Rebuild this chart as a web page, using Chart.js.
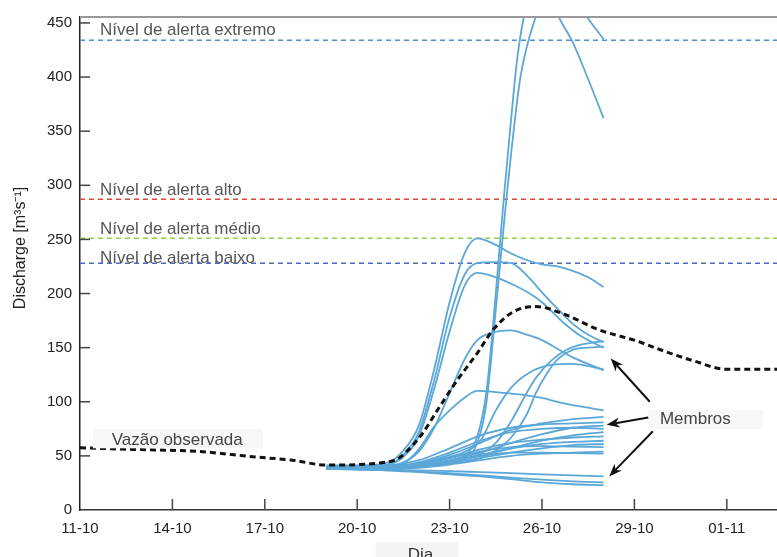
<!DOCTYPE html>
<html>
<head>
<meta charset="utf-8">
<script src="https://cdn.jsdelivr.net/npm/chart.js@4.4.1/dist/chart.umd.min.js"></script>
<style>
  html, body { margin: 0; padding: 0; background: #fff; overflow: hidden; }
  #wrap { width: 777px; height: 557px; position: relative; }
</style>
</head>
<body>
<div id="wrap"><canvas id="grafico"></canvas></div>
<script>
// eixo x: dias contados a partir de 11-10
const diasTicks = [0, 3, 6, 9, 12, 15, 18, 21];
const rotulosX = ['11-10', '14-10', '17-10', '20-10', '23-10', '26-10', '29-10', '01-11'];
const valoresY = [0, 50, 100, 150, 200, 250, 300, 350, 400, 450];

// vazão observada
const obsDias = [0, 1.7, 3.9, 5, 5.7, 6.9, 8, 10, 10.3, 10.6, 11.1, 11.6, 12.2, 12.9, 13.4, 14.06, 14.8, 15.8, 16.8, 18.2, 18.8, 19.9, 21, 22.63];
const obsVazao = [57.5, 56, 54, 51, 49, 46, 41.5, 44.5, 47, 54, 70, 92, 118, 145, 166, 183, 188, 180, 167, 155, 148.5, 138, 130, 130];

// níveis de alerta
const niveisNomes = ['Nível de alerta extremo', 'Nível de alerta alto', 'Nível de alerta médio', 'Nível de alerta baixo'];
const niveisValores = [434, 287, 251, 228];

// membros do ensemble: pares [dia, vazão]
const membros = [
  [[8,41],[10,41],[11,42],[12,45],[12.5,51],[12.9,68],[13.2,110],[13.5,200],[13.75,285],[14,362],[14.2,418],[14.45,460],[15,495],[15.5,458],[16,432],[16.5,398],[17,362]],
  [[8,40],[10,40],[11,42],[12,44],[12.5,49],[12.9,62],[13.2,100],[13.5,185],[13.8,275],[14,330],[14.3,400],[14.8,456],[15.5,500],[16.45,456],[17,435]],
  [[8,41],[9,41],[10,44],[10.5,55],[11,78],[11.5,130],[12,192],[12.5,238],[12.9,251],[13.5,245],[14,237],[14.5,231],[15,227],[15.5,225],[16,221],[16.5,215],[17,206]],
  [[8,40],[9,40],[10,42],[10.5,51],[11,72],[11.5,120],[12,178],[12.5,218],[12.9,228],[13.5,229],[14,228],[14.6,214],[15,201],[15.5,186],[16,172],[16.5,162],[17,155]],
  [[8,40],[9,40],[10,42],[10.5,49],[11,68],[11.5,112],[12,165],[12.5,208],[12.9,219],[13.5,215],[14,209],[14.6,200],[15,192],[15.7,173],[16.3,160],[17,150]],
  [[8,40],[10,41],[10.5,44],[11,54],[11.5,76],[12,108],[12.5,140],[12.9,157],[13.4,164],[14,166],[14.5,162],[15,157],[15.5,149],[16,141],[16.5,135],[17,129]],
  [[8,40],[10,40],[10.5,43],[11,56],[11.5,77],[12,92],[12.5,104],[12.9,110],[13.5,109],[14,107.5],[14.5,106],[15,103.5],[15.5,100],[16,97],[16.5,94.5],[17,92]],
  [[8,40],[10,40],[11,43],[12,49],[12.5,54],[13,64],[13.5,92],[14,113],[14.6,127],[15.3,134],[16,135],[16.5,133],[17,130]],
  [[8,39],[10,39],[11,41],[12,45],[13,52],[13.5,62],[14,82],[14.5,108],[14.8,122],[15.3,138],[15.8,148],[16.3,153],[17,156]],
  [[8,39],[10,39],[11,40],[12,43],[13,48],[13.5,55],[14,67],[14.5,88],[14.8,108],[15.2,128],[15.5,139],[16,148],[16.5,150],[17,151]],
  [[8,40],[10,40],[11,43],[12,51],[13,62],[14,74],[15,80],[16,84],[17,86]],
  [[8,40],[10,41],[11,46],[12,57],[13,69],[14,76],[15,79],[16,80],[17,81]],
  [[8,39],[10,39],[11,41],[12,46],[13,53],[14,62],[15,70],[16,76],[17,78]],
  [[8,40],[10,40],[11,44],[12,53],[13,64],[14,72],[15,75],[16,76],[17,75]],
  [[8,39],[10,39],[11,41],[12,44],[13,50],[14,57],[15,64],[16,69],[17,72]],
  [[8,39],[10,39],[11,42],[12,48],[13,56],[14,62],[15,65],[16,67],[17,68]],
  [[8,39],[10,39],[11,41],[12,45],[13,51],[14,57],[15,61],[16,63],[17,64]],
  [[8,38],[10,38],[11,40],[12,43],[13,48],[14,53],[15,57],[16,60],[17,61]],
  [[8,39],[10,40],[11,43],[12,48],[13,54],[14,58],[15,59],[16,58.5],[17,58]],
  [[8,38],[10,38],[11,39],[12,42],[13,46],[14,50],[15,52],[16,53],[17,54]],
  [[8,39],[10,39],[11,41],[12,45],[13,50],[14,53],[15,53],[16,52.5],[17,52]],
  [[8,38],[10,37],[11,36.5],[12,36],[13,35],[14,34],[15,33],[16,32],[17,31]],
  [[8,38],[10,37],[11,35.5],[12,34],[13,32],[14,30],[15,28],[16,26.5],[17,25.5]],
  [[8,38],[10,36.5],[11,35],[12,33],[13,31],[14,28.5],[15,25.5],[16,23.8],[17,23]]
];

const X_MAX = 22.63;
const Y_MAX = 455.5;
const coresNiveis = ['#4f8ed2', '#d9493c', '#8fd24c', '#4a69c0'];
const corMembro = '#5aa7d8';
const fonte = "'Liberation Sans', Arial, sans-serif";

Chart.defaults.font.family = fonte;

const datasets = [];
datasets.push({
  label: 'Vazão observada',
  data: obsDias.map((d, i) => ({ x: d, y: obsVazao[i] })),
  borderColor: '#111',
  borderWidth: 3,
  borderDash: [6, 4],
  pointRadius: 0,
  cubicInterpolationMode: 'monotone',
  fill: false
});
membros.forEach((m, i) => {
  datasets.push({
    label: 'Membro ' + (i + 1),
    data: m.map(p => ({ x: p[0], y: p[1] })),
    borderColor: corMembro,
    borderWidth: 1.8,
    pointRadius: 0,
    cubicInterpolationMode: 'monotone',
    fill: false
  });
});
niveisValores.forEach((v, i) => {
  datasets.push({
    label: niveisNomes[i],
    data: [{ x: 0, y: v }, { x: X_MAX, y: v }],
    borderColor: coresNiveis[i],
    borderWidth: 1.5,
    borderDash: [5, 4],
    pointRadius: 0,
    fill: false
  });
});

function seta(ctx, x1, y1, x2, y2) {
  const ang = Math.atan2(y2 - y1, x2 - x1);
  const L = 13, W = 5;
  ctx.beginPath();
  ctx.moveTo(x1, y1);
  ctx.lineTo(x2 - Math.cos(ang) * L * 0.7, y2 - Math.sin(ang) * L * 0.7);
  ctx.stroke();
  ctx.beginPath();
  ctx.moveTo(x2, y2);
  ctx.lineTo(x2 - L * Math.cos(ang) + W * Math.sin(ang), y2 - L * Math.sin(ang) - W * Math.cos(ang));
  ctx.lineTo(x2 - L * 0.7 * Math.cos(ang), y2 - L * 0.7 * Math.sin(ang));
  ctx.lineTo(x2 - L * Math.cos(ang) - W * Math.sin(ang), y2 - L * Math.sin(ang) + W * Math.cos(ang));
  ctx.closePath();
  ctx.fill();
}

const anotacoes = {
  id: 'anotacoes',
  afterDraw(chart) {
    const ctx = chart.ctx;
    const xs = chart.scales.x, ys = chart.scales.y;
    const px = d => xs.getPixelForValue(d);
    const py = v => ys.getPixelForValue(v);
    const area = chart.chartArea;
    ctx.save();

    // borda superior
    ctx.strokeStyle = '#999';
    ctx.lineWidth = 2;
    ctx.beginPath();
    ctx.moveTo(area.left, area.top);
    ctx.lineTo(area.right, area.top);
    ctx.stroke();

    // marcas dos ticks para dentro
    ctx.strokeStyle = '#444';
    ctx.lineWidth = 1.5;
    valoresY.forEach(v => {
      if (v === 0) return;
      ctx.beginPath();
      ctx.moveTo(area.left, py(v));
      ctx.lineTo(area.left + 10, py(v));
      ctx.stroke();
    });
    diasTicks.forEach(d => {
      if (d === 0) return;
      ctx.beginPath();
      ctx.moveTo(px(d), area.bottom);
      ctx.lineTo(px(d), area.bottom - 11);
      ctx.stroke();
    });

    // rótulos dos níveis
    ctx.font = '17px ' + fonte;
    ctx.fillStyle = '#555';
    ctx.textBaseline = 'middle';
    ctx.textAlign = 'left';
    const niveisTextoY = [443.5, 295.5, 259, 233];
    niveisNomes.forEach((n, i) => ctx.fillText(n, px(0.65), py(niveisTextoY[i])));

    // vazão observada
    ctx.fillStyle = '#f7f7f7';
    ctx.fillRect(px(0.42), py(75), px(5.94) - px(0.42), py(57) - py(75));
    ctx.fillStyle = '#444';
    ctx.fillText('Vazão observada', px(1.03), py(64.5));

    // membros + setas
    ctx.fillStyle = '#f8f8f8';
    ctx.fillRect(px(18.44), py(92.5), px(22.18) - px(18.44), py(75) - py(92.5));
    ctx.fillStyle = '#444';
    ctx.fillText('Membros', px(18.83), py(83.6));
    ctx.strokeStyle = '#111';
    ctx.fillStyle = '#111';
    ctx.lineWidth = 2;
    seta(ctx, px(18.5), py(100), px(17.23), py(140));
    seta(ctx, px(18.45), py(85.5), px(17.1), py(78.8));
    seta(ctx, px(18.6), py(72.7), px(17.18), py(31));

    // título eixo x
    ctx.fillStyle = '#f4f4f4';
    const cx = (area.left + area.right) / 2 - 7;
    ctx.fillRect(cx - 46, area.bottom + 32, 83, 20);
    ctx.fillStyle = '#333';
    ctx.textAlign = 'center';
    ctx.font = '17px ' + fonte;
    ctx.fillText('Dia', cx - 1, area.bottom + 45);

    // título eixo y
    ctx.translate(21, 248);
    ctx.rotate(-Math.PI / 2);
    ctx.font = '16px ' + fonte;
    ctx.fillStyle = '#222';
    ctx.fillText('Discharge [m³s⁻¹]', 0, 0);
    ctx.restore();
  }
};

new Chart(document.getElementById('grafico'), {
  type: 'line',
  data: { datasets: datasets },
  options: {
    responsive: true,
    maintainAspectRatio: false,
    animation: false,
    layout: { padding: { top: 9, right: 0, left: 0, bottom: 0 } },
    plugins: { legend: { display: false }, tooltip: { enabled: false } },
    scales: {
      x: {
        type: 'linear',
        min: 0,
        max: X_MAX,
        afterBuildTicks: s => { s.ticks = diasTicks.map(v => ({ value: v })); },
        afterFit: s => { s.height = 47; },
        grid: { drawOnChartArea: false, drawTicks: false },
        border: { display: true, color: '#333', width: 1.5 },
        ticks: {
          padding: 10,
          color: '#222',
          font: { size: 15 },
          maxRotation: 0,
          callback: v => rotulosX[diasTicks.indexOf(v)]
        }
      },
      y: {
        min: 0,
        max: Y_MAX,
        afterBuildTicks: s => { s.ticks = valoresY.map(v => ({ value: v })); },
        afterFit: s => { s.width = 80; },
        grid: { drawOnChartArea: false, drawTicks: false },
        border: { display: true, color: '#222', width: 1.5 },
        ticks: { padding: 8, color: '#222', font: { size: 15 } }
      }
    }
  },
  plugins: [anotacoes]
});
</script>
</body>
</html>
